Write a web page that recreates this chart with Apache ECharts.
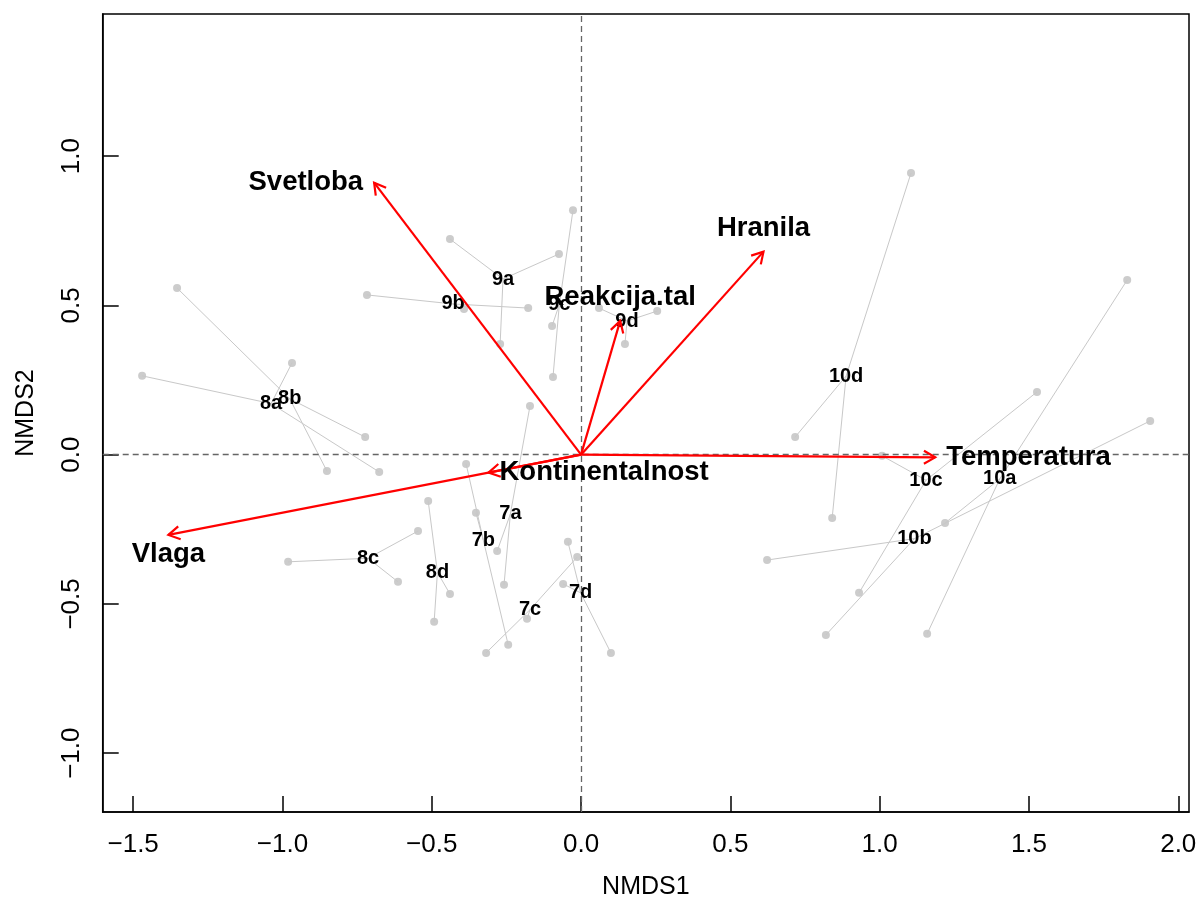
<!DOCTYPE html>
<html>
<head>
<meta charset="utf-8">
<script src="https://cdn.jsdelivr.net/npm/echarts@6/dist/echarts.min.js"></script>
<style>
  html, body { margin: 0; padding: 0; background: #ffffff; }
  #chart { width: 1198px; height: 899px; }
</style>
</head>
<body>
<div id="chart"></div>
<script>
// NMDS site scores, three plots per group
const siteGroup = [
  '7a','7a','7a', '7b','7b','7b', '7c','7c','7c', '7d','7d','7d',
  '8a','8a','8a', '8b','8b','8b', '8c','8c','8c', '8d','8d','8d',
  '9a','9a','9a', '9b','9b','9b', '9c','9c','9c', '9d','9d','9d',
  '10a','10a','10a', '10b','10b','10b', '10c','10c','10c', '10d','10d','10d'
];
const siteNMDS1 = [
  -0.171, -0.281, -0.258,  -0.385, -0.244, -0.352,  -0.318, -0.013, -0.181,  -0.044, 0.100, -0.060,
  -1.470, -0.676, -0.968,  -1.353, -0.723, -0.851,  -0.546, -0.981, -0.613,  -0.512, -0.492, -0.439,
  -0.439, -0.074, -0.271,  -0.717, -0.177, -0.392,  -0.027, -0.094, -0.097,   0.147, 0.255, 0.060,
   1.829,  1.159,  1.219,   1.906,  0.623,  0.820,   1.527,  0.931,  1.008,   1.105, 0.717, 0.841
];
const siteNMDS2 = [
   0.163, -0.323, -0.436,  -0.031, -0.637, -0.195,  -0.664, -0.343, -0.550,  -0.292, -0.664, -0.433,
   0.264, -0.058,  0.307,   0.558,  0.059, -0.055,  -0.256, -0.359, -0.426,  -0.155, -0.560, -0.467,
   0.722,  0.672,  0.371,   0.535,  0.491,  0.488,   0.819,  0.260,  0.431,   0.371, 0.481, 0.491,
   0.585, -0.600, -0.229,   0.113, -0.353, -0.604,   0.210, -0.463, -0.004,   0.943, 0.059, -0.212
];

// Fitted environmental vectors
const vectorNames = ['Svetloba', 'Hranila', 'Reakcija.tal', 'Temperatura', 'Kontinentalnost', 'Vlaga'];
const vectorNMDS1 = [-0.693, 0.611, 0.131, 1.186, -0.310, -1.382];
const vectorNMDS2 = [ 0.911, 0.680, 0.448, -0.009, -0.060, -0.269];

// Axis ticks
const xTicks = [-1.5, -1.0, -0.5, 0.0, 0.5, 1.0, 1.5, 2.0];
const yTicks = [-1.0, -0.5, 0.0, 0.5, 1.0];

// Side of the arrow tip on which each vector name sits
const vectorLabelSide = {
  'Svetloba': 'left', 'Hranila': 'top', 'Reakcija.tal': 'top',
  'Temperatura': 'right', 'Kontinentalnost': 'right', 'Vlaga': 'bottom'
};

const FONT = '"Liberation Sans", Arial, sans-serif';

// Group centroids (mean of member scores) and spider segments
const groupOrder = [];
siteGroup.forEach(g => { if (!groupOrder.includes(g)) groupOrder.push(g); });
const centroids = groupOrder.map(g => {
  let sx = 0, sy = 0, n = 0;
  siteGroup.forEach((s, i) => { if (s === g) { sx += siteNMDS1[i]; sy += siteNMDS2[i]; n++; } });
  return [sx / n, sy / n];
});
const centroidOf = {};
groupOrder.forEach((g, k) => { centroidOf[g] = centroids[k]; });
const spiderSegments = siteGroup.map((g, i) => ({
  coords: [centroidOf[g], [siteNMDS1[i], siteNMDS2[i]]]
}));
const sitePoints = siteNMDS1.map((x, i) => [x, siteNMDS2[i]]);
const vectorData = vectorNames.map((n, i) => [vectorNMDS1[i], vectorNMDS2[i]]);

const fmt = v => v.toFixed(1).replace('-', '\u2212');

// text placement next to an arrow tip, like R's text(pos = ...)
function sideText(p, side, text) {
  const gapX = 11, gapY = 10;
  let x = p[0], y = p[1], align = 'center';
  if (side === 'left')  { x -= gapX; align = 'right'; }
  if (side === 'right') { x += gapX; align = 'left'; }
  if (side === 'top')   { y -= gapY + 13; }
  if (side === 'bottom'){ y += gapY + 9; }
  return {
    type: 'text', x: x, y: y,
    style: { text: text, fill: '#000', font: 'bold 27.5px ' + FONT, align: align, verticalAlign: 'middle' }
  };
}

const chart = echarts.init(document.getElementById('chart'), null, { renderer: 'canvas' });
chart.setOption({
  animation: false,
  backgroundColor: '#ffffff',
  grid: {
    left: 102.7, top: 14, width: 1086.3, height: 798,
    outerBoundsMode: 'none', containLabel: false,
    show: true, borderColor: '#000', borderWidth: 1.5, backgroundColor: 'transparent'
  },
  xAxis: {
    type: 'value', min: -1.602, max: 2.036,
    name: 'NMDS1', nameLocation: 'middle', nameGap: 63,
    nameTextStyle: { fontFamily: FONT, fontSize: 25, color: '#000' },
    axisLine: { onZero: false, lineStyle: { color: '#000', width: 1.5 } },
    axisTick: { show: true, inside: true, length: 16, customValues: xTicks, lineStyle: { color: '#000', width: 1.5 } },
    axisLabel: { customValues: xTicks, formatter: fmt, margin: 20, fontFamily: FONT, fontSize: 26, color: '#000' },
    splitLine: { show: false }
  },
  yAxis: {
    type: 'value', min: -1.197, max: 1.476,
    name: 'NMDS2', nameLocation: 'middle', nameGap: 64, nameRotate: 90,
    nameTextStyle: { fontFamily: FONT, fontSize: 25, color: '#000' },
    axisLine: { onZero: false, lineStyle: { color: '#000', width: 1.5 } },
    axisTick: { show: true, inside: true, length: 16, customValues: yTicks, lineStyle: { color: '#000', width: 1.5 } },
    axisLabel: { customValues: yTicks, formatter: fmt, rotate: 90, margin: 18, fontFamily: FONT, fontSize: 26, color: '#000' },
    splitLine: { show: false }
  },
  series: [
    {
      // site points with dashed reference lines through the origin
      type: 'scatter', z: 2,
      data: sitePoints,
      symbol: 'circle', symbolSize: 8,
      itemStyle: { color: '#bfbfbf' },
      silent: true,
      markLine: {
        silent: true, symbol: 'none', label: { show: false },
        lineStyle: { color: '#666666', type: [6, 4], width: 1.3 },
        data: [{ xAxis: 0 }, { yAxis: 0 }]
      }
    },
    {
      // spider lines from each group centroid to its plots
      type: 'lines', coordinateSystem: 'cartesian2d', z: 3,
      data: spiderSegments,
      lineStyle: { color: '#c8c8c8', width: 1, opacity: 1 },
      silent: true
    },
    {
      // group labels at centroids
      type: 'custom', z: 4,
      data: centroids,
      encode: { x: 0, y: 1 },
      renderItem: (params, api) => {
        const p = api.coord([api.value(0), api.value(1)]);
        return {
          type: 'text', x: p[0], y: p[1],
          style: { text: groupOrder[params.dataIndex], fill: '#000', font: 'bold 20px ' + FONT,
                   align: 'center', verticalAlign: 'middle' }
        };
      },
      silent: true
    },
    {
      // environmental vectors
      type: 'custom', z: 5,
      data: vectorData,
      encode: { x: 0, y: 1 },
      renderItem: (params, api) => {
        const o = api.coord([0, 0]);
        const t = api.coord([api.value(0), api.value(1)]);
        const ang = Math.atan2(t[1] - o[1], t[0] - o[0]);
        const L = 13, a = Math.PI / 6;
        const p1 = [t[0] - L * Math.cos(ang - a), t[1] - L * Math.sin(ang - a)];
        const p2 = [t[0] - L * Math.cos(ang + a), t[1] - L * Math.sin(ang + a)];
        return {
          type: 'group',
          children: [
            { type: 'line', shape: { x1: o[0], y1: o[1], x2: t[0], y2: t[1] },
              style: { stroke: '#ff0000', lineWidth: 2.2 } },
            { type: 'polyline', shape: { points: [p1, t, p2] },
              style: { stroke: '#ff0000', lineWidth: 2.2, fill: null } }
          ]
        };
      },
      silent: true
    },
    {
      // vector names
      type: 'custom', z: 6,
      data: vectorData,
      encode: { x: 0, y: 1 },
      renderItem: (params, api) => {
        const name = vectorNames[params.dataIndex];
        const t = api.coord([api.value(0), api.value(1)]);
        return sideText(t, vectorLabelSide[name], name);
      },
      silent: true
    }
  ]
});
</script>
</body>
</html>
